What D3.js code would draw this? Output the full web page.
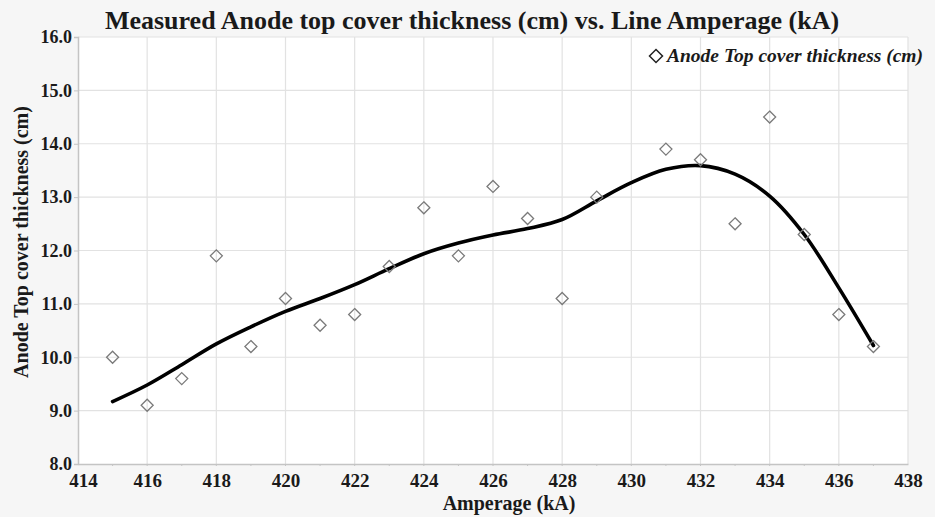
<!DOCTYPE html>
<html><head><meta charset="utf-8">
<script src="https://cdn.jsdelivr.net/npm/d3@7/dist/d3.min.js"></script>
<style>
html,body{margin:0;padding:0;background:#f6f6f6;}
svg{display:block;}
text{font-family:"Liberation Serif","Times New Roman",serif;fill:#1a1a1a;}
</style></head>
<body>
<script>
// Data
const amperage = [415,416,417,418,419,420,421,422,423,424,425,426,427,428,429,431,432,433,434,435,436,437];
const thickness = [10.0,9.1,9.6,11.9,10.2,11.1,10.6,10.8,11.7,12.8,11.9,13.2,12.6,11.1,13.0,13.9,13.7,12.5,14.5,12.3,10.8,10.2];
const fitX = [415,416,417,418,419,420,421,422,423,424,425,426,427,428,429,430,431,432,433,434,435,436,437];
const fitY = [9.17,9.48,9.86,10.25,10.57,10.86,11.1,11.36,11.66,11.94,12.14,12.29,12.41,12.58,12.93,13.27,13.52,13.59,13.43,13.02,12.3,11.3,10.22];
const xTicks = [414,416,418,420,422,424,426,428,430,432,434,436,438];
const yTicks = [8,9,10,11,12,13,14,15,16];
const title = "Measured Anode top cover thickness (cm) vs. Line Amperage (kA)";
const xTitle = "Amperage (kA)";
const yTitle = "Anode Top cover thickness (cm)";
const legendLabel = "Anode Top cover thickness (cm)";

const W = 935, H = 517;
const m = {left:78, right:27, top:37, bottom:53};
const svg = d3.select("body").append("svg").attr("width",W).attr("height",H);
svg.append("rect").attr("width",W).attr("height",H).attr("fill","#f6f6f6");

const x = d3.scaleLinear().domain([414,438]).range([m.left, W-m.right]);
const y = d3.scaleLinear().domain([8,16]).range([H-m.bottom, m.top]);

svg.append("rect").attr("x",m.left).attr("y",m.top)
  .attr("width",x(438)-m.left).attr("height",y(8)-m.top).attr("fill","#ffffff");

// gridlines
svg.append("g").selectAll("line").data(yTicks.slice(1)).join("line")
  .attr("x1",m.left).attr("x2",x(438)).attr("y1",d=>y(d)).attr("y2",d=>y(d))
  .attr("stroke","#e2e2e2").attr("stroke-width",1.2);
svg.append("g").selectAll("line").data(xTicks.slice(1)).join("line")
  .attr("x1",d=>x(d)).attr("x2",d=>x(d)).attr("y1",m.top).attr("y2",y(8))
  .attr("stroke","#e2e2e2").attr("stroke-width",1.2);

// axes
const xAxis = d3.axisBottom(x).tickValues(xTicks).tickSize(0).tickPadding(10).tickFormat(d3.format("d"));
const gx = svg.append("g").attr("transform",`translate(0,${y(8)})`).call(xAxis);
gx.select(".domain").attr("stroke","#c4c4c4").attr("stroke-width",1.5);
gx.selectAll("text").attr("font-size",19).attr("font-weight","bold").style("font-family","'Liberation Serif',serif").attr("fill","#1a1a1a");
gx.selectAll(".tick").filter(d=>d===414).select("text").attr("dx",5);
// minor ticks
svg.append("g").selectAll("line").data(d3.range(415,438,1)).join("line")
  .attr("x1",d=>x(d)).attr("x2",d=>x(d)).attr("y1",y(8)).attr("y2",y(8)+2)
  .attr("stroke","#c4c4c4");

const yAxis = d3.axisLeft(y).tickValues(yTicks).tickSize(4).tickPadding(2).tickFormat(d3.format(".1f"));
const gy = svg.append("g").attr("transform",`translate(${m.left},0)`).call(yAxis);
gy.select(".domain").attr("stroke","#c4c4c4").attr("stroke-width",1.5);
gy.selectAll(".tick line").attr("stroke","#c4c4c4");
gy.selectAll("text").attr("font-size",18).attr("font-weight","bold").style("font-family","'Liberation Serif',serif").attr("fill","#1a1a1a");

// fit curve
const line = d3.line().x((d,i)=>x(fitX[i])).y(d=>y(d)).curve(d3.curveCatmullRom.alpha(0.5));
svg.append("path").datum(fitY).attr("d",line).attr("fill","none")
  .attr("stroke","#000").attr("stroke-width",3.6).attr("stroke-linecap","round");

// points
const diamond = s => `M0,${-s}L${s},0L0,${s}L${-s},0Z`;
svg.append("g").selectAll("path").data(amperage).join("path")
  .attr("transform",(d,i)=>`translate(${x(d)},${y(thickness[i])})`)
  .attr("d",diamond(6)).attr("fill","none").attr("stroke","#7a7a7a").attr("stroke-width",1.3);

// title
svg.append("text").attr("x",472).attr("y",29).attr("text-anchor","middle")
  .attr("font-size",26).attr("font-weight","bold").text(title);

// axis titles
svg.append("text").attr("x",509).attr("y",510).attr("text-anchor","middle")
  .attr("font-size",20).attr("font-weight","bold").text(xTitle);
svg.append("text").attr("transform","translate(28,242) rotate(-90)").attr("text-anchor","middle")
  .attr("font-size",20).attr("font-weight","bold").text(yTitle);

// legend
svg.append("path").attr("transform","translate(656,56)").attr("d",diamond(6.5))
  .attr("fill","none").attr("stroke","#222").attr("stroke-width",1.5);
svg.append("text").attr("x",667).attr("y",62).attr("font-size",19.5)
  .attr("font-weight","bold").attr("font-style","italic").text(legendLabel);
</script>
</body></html>
